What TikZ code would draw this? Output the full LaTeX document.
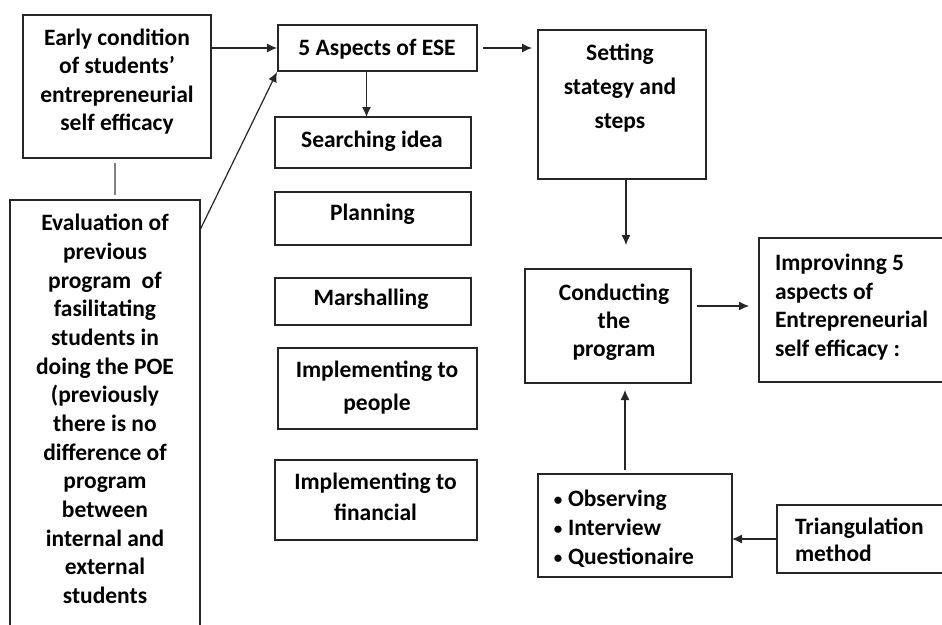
\documentclass[tikz,border=0pt]{standalone}
\usepackage{fontspec}
\setmainfont{Carlito}
\usetikzlibrary{arrows.meta}
\newcommand{\bulletmark}{\makebox[10pt][c]{\raisebox{1.5pt}{\fontsize{17}{17}\selectfont•}}\hspace{5pt}}
\begin{document}
\begin{tikzpicture}[x=1pt,y=-1pt,
  box/.style={draw=black!85, line width=1.3pt, inner sep=0pt, outer sep=0pt},
  txt/.style={inner sep=0pt, outer sep=0pt, anchor=base, align=center, font=\fontsize{23.5}{#1}\selectfont\bfseries},
  txtl/.style={inner sep=0pt, outer sep=0pt, anchor=base west, align=left, font=\fontsize{23.5}{#1}\selectfont\bfseries},
  arr/.style={draw=black!85, line width=1.2pt, -{Latex[length=10pt,width=9pt]}},
  link/.style={draw=black!50, line width=2pt}]
\clip (0,0) rectangle (942,624);
\useasboundingbox (0,0) rectangle (942,624);
\fill[white] (0,0) rectangle (942,624);
% boxes
\node[box, minimum width=188pt, minimum height=143pt] (A) at (117,86.5) {};
\node[box, minimum width=190pt, minimum height=460pt] (B) at (105,430) {};
\node[box, minimum width=199pt, minimum height=46pt] (C) at (377.5,48) {};
\node[box, minimum width=168pt, minimum height=149pt] (D) at (622,104.5) {};
\node[box, minimum width=196pt, minimum height=51pt] (S) at (373,142.5) {};
\node[box, minimum width=196pt, minimum height=53pt] (P) at (373,218.5) {};
\node[box, minimum width=196pt, minimum height=47pt] (M) at (373,301.5) {};
\node[box, minimum width=199pt, minimum height=81pt] (IP) at (377.5,388.5) {};
\node[box, minimum width=202pt, minimum height=80pt] (IF) at (376,500) {};
\node[box, minimum width=166pt, minimum height=114pt] (E) at (608,326) {};
\node[box, minimum width=201pt, minimum height=144pt] (F) at (859.5,310) {};
\node[box, minimum width=194pt, minimum height=103pt] (G) at (635,525.5) {};
\node[box, minimum width=183pt, minimum height=68pt] (H) at (868.5,539) {};
% texts (anchored at the baseline of their last line)
\node[txt=28.5] (At) at (117,130.5) {Early condition\\of students’\\entrepreneurial\\self efficacy};
\node[txt=28.67] (Bt) at (105,603.5) {Evaluation of\\previous\\program\ \ of\\fasilitating\\students in\\doing the POE\\(previously\\there is no\\difference of\\program\\between\\internal and\\external\\students};
\node[txt=28] (Ct) at (377,55) {5 Aspects of ESE};
\node[txt=34] (Dt) at (620,128) {Setting\\stategy and\\steps};
\node[txt=28] (St) at (372,147.5) {Searching idea};
\node[txt=28] (Pt) at (372.5,220.5) {Planning};
\node[txt=28] (Mt) at (371,305.5) {Marshalling};
\node[txt=33] (IPt) at (377,410.5) {Implementing to\\people};
\node[txt=31] (IFt) at (375.5,520.5) {Implementing to\\financial};
\node[txt=28] (Et) at (614,356.5) {Conducting\\the\\program};
\node[txtl=28.7] (Ft) at (775,356.6) {Improvinng 5\\aspects of\\Entrepreneurial\\self efficacy :};
\node[txtl=29] (Gt) at (553,564.5) {\bulletmark Observing\\\bulletmark Interview\\\bulletmark Questionaire};
\node[txtl=27] (Ht) at (795,561.5) {Triangulation\\method};
% free ends
\coordinate (dE) at (626,245);
\coordinate (uE) at (625,390);
\coordinate (gTop) at (625,470);
\coordinate (eR) at (697,306);
\coordinate (fL) at (749,306);
\coordinate (lkA) at ([xshift=-2pt]A.south);
% connectors
\draw[arr] (A.east |- C.west) -- ([xshift=-1pt]C.west);
\draw[arr] ([yshift=-30pt]B.north east) -- ([shift={(-1pt,-1pt)}]C.south west);
\draw[link] ([yshift=-5pt]lkA) -- ([yshift=5pt]B.north -| lkA);
\draw[arr] ([xshift=6pt]C.east) -- ([xshift=-6pt]C.east -| D.west);
\draw[arr] ([xshift=-11pt]C.south) -- ([xshift=-11pt]C.south |- S.north);
\draw[arr] (D.south -| dE) -- (dE);
\draw[arr] (gTop) -- (uE);
\draw[arr] (eR) -- (fL);
\draw[arr] (H.west) -- (H.west -| G.east);
\end{tikzpicture}
\end{document}
